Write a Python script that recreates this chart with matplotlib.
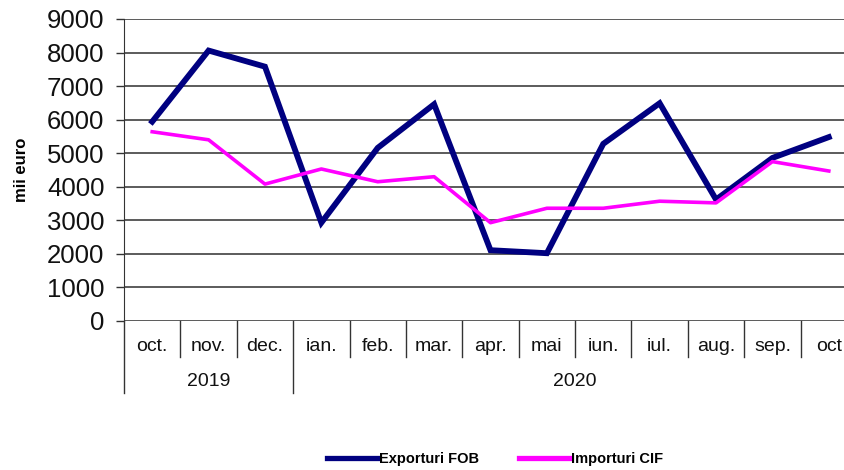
import matplotlib
matplotlib.use("Agg")
import matplotlib.pyplot as plt
from matplotlib.lines import Line2D

plt.rcParams['font.family'] = ['Liberation Sans', 'DejaVu Sans']

luni = ['oct.', 'nov.', 'dec.', 'ian.', 'feb.', 'mar.', 'apr.', 'mai', 'iun.', 'iul.', 'aug.', 'sep.', 'oct']
ani = ['2019', '2020']
ani_nr_luni = [3, 10]

exporturi = [5940, 8060, 7580, 2930, 5160, 6460, 2110, 2020, 5280, 6490, 3620, 4860, 5480]
importuri = [5640, 5400, 4080, 4530, 4150, 4300, 2930, 3360, 3360, 3570, 3520, 4750, 4470]

fig = plt.figure(figsize=(8.45, 4.70), dpi=100)
ax = fig.add_axes([124 / 845, 149 / 470, 733 / 845, 302 / 470])

x = list(range(len(luni)))
ax.plot(x, exporturi, color='#000080', lw=4.2, solid_joinstyle='miter', label='Exporturi FOB', zorder=3)
ax.plot(x, importuri, color='#ff00ff', lw=2.6, label='Importuri CIF', zorder=3)

ax.set_xlim(-0.5, len(luni) - 0.5)
ax.set_ylim(0, 9000)
ax.set_yticks(range(0, 9001, 1000))
ax.tick_params(axis='y', labelsize=18.5, length=6, width=1, pad=8, color='#333333', labelcolor='#111111')
ax.set_xticks([])
ax.grid(axis='y', color='#404040', lw=1.2)
ax.set_axisbelow(True)
for s in ['top', 'right', 'bottom']:
    ax.spines[s].set_visible(False)
ax.spines['left'].set_color('#333333')

# axa categoriilor (luni + ani)
trans = ax.get_xaxis_transform()
for i, l in enumerate(luni):
    ax.text(i, -0.085, l, transform=trans, ha='center', va='center', fontsize=14, color='#111111')
poz = 0
for an, n in zip(ani, ani_nr_luni):
    ax.text(poz - 0.5 + n / 2, -0.2, an, transform=trans, ha='center', va='center', fontsize=14, color='#111111')
    poz += n
granite = [0]
for n in ani_nr_luni:
    granite.append(granite[-1] + n)
for i in range(len(luni) + 1):
    jos = -0.24 if i in granite else -0.12
    ax.plot([i - 0.5, i - 0.5], [0, jos], transform=trans, color='#333333', lw=1, clip_on=False)

fig.text(22 / 845, (470 - 170) / 470, 'mii euro', rotation=90, ha='center', va='center',
         fontsize=12, fontweight='bold')

handles = [Line2D([], [], color='#000080', lw=3.8), Line2D([], [], color='#ff00ff', lw=3.8)]
fig.legend(handles, ['Exporturi FOB', 'Importuri CIF'], loc='center', bbox_to_anchor=(495 / 845, 11 / 470),
           ncol=2, frameon=False, handlelength=3.5, handletextpad=0.05, columnspacing=2.8,
           prop={'weight': 'bold', 'size': 10.5})

fig.savefig('out.png', dpi=100)
